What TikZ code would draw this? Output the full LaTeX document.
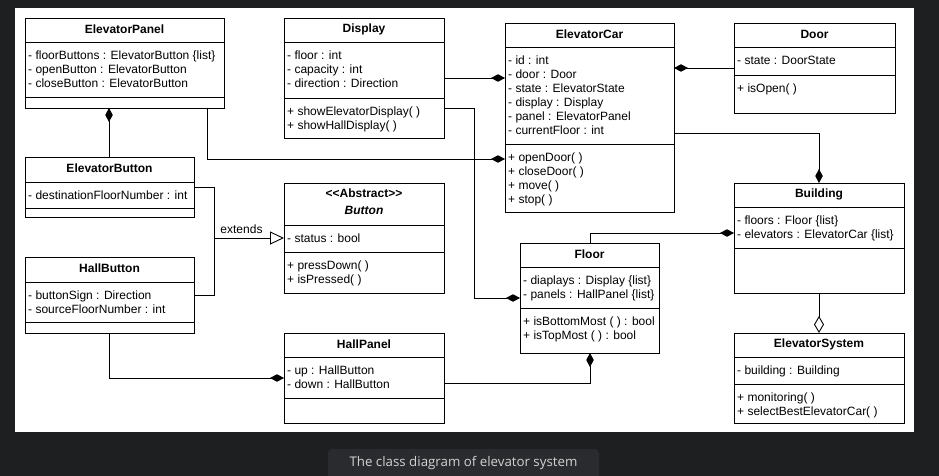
\documentclass[tikz,border=0pt]{standalone}
\usepackage{fontspec}
\setmainfont{Liberation Sans}
\newfontfamily\capfont{Open Sans}
\usetikzlibrary{arrows.meta}
\definecolor{bgdark}{HTML}{1E1F21}
\definecolor{capbox}{HTML}{2A2B2E}
\definecolor{captext}{HTML}{D2D2D2}
\tikzset{
 box/.style={draw=black, line width=0.9pt, fill=white, inner sep=0pt, outer sep=0pt},
 sepline/.style={draw=black, line width=0.9pt},
 ttl/.style={font=\fontsize{12}{14}\selectfont\bfseries, inner sep=0pt, anchor=center},
 lst/.style={font=\fontsize{12}{13.9}\selectfont, inner sep=0pt, anchor=north west, align=left},
 conn/.style={draw=black, line width=0.9pt},
 comp/.style={conn, -{Diamond[length=14pt,width=7.5pt]}},
 agg/.style={conn, -{Diamond[open,length=17pt,width=10pt,fill=white]}},
 gen/.style={conn, -{Triangle[open,length=14pt,width=13pt,fill=white]}},
 lbl/.style={font=\fontsize{12}{14}\selectfont, inner sep=0pt},
}
\newcommand{\umlbox}[7]{%
 \def\un{#1}\def\ux{#2}\def\uy{#3}\def\uxx{#4}\def\usa{#6}\def\usb{#7}%
 \node[box, minimum width={#4-#2}, minimum height={#5-#3}] (#1) at ({(#2+#4)/2},{(#3+#5)/2}) {};
 \draw[sepline] (#2,#6) -- (#4,#6);
 \draw[sepline] (#2,#7) -- (#4,#7);
}
\newcommand{\umltitle}[1]{\node[ttl] (\un-t) at ({(\ux+\uxx)/2},{(\uy+\usa)/2-1}) {#1};}
\newcommand{\umlattr}[1]{\node[lst] (\un-a) at ({\ux+3},{\usa+8}) {\strut#1};}
\newcommand{\umlmeth}[1]{\node[lst] (\un-m) at ({\ux+3},{\usb+8}) {\strut#1};}
\begin{document}
\begin{tikzpicture}[x=1pt,y=-1pt]
\useasboundingbox (0,0) rectangle (939,476);
\fill[bgdark] (0,0) rectangle (939,476);
\fill[white] (15,8) rectangle (914,432);
\fill[capbox, rounded corners=4pt] (328,449) rectangle (599,484);
\node[font=\capfont\fontsize{13.3}{15}\selectfont, text=captext, inner sep=0pt] (cap) at (463.5,463) {The class diagram of elevator system};

% ElevatorPanel
\umlbox{epanel}{25}{18}{224}{108}{42}{97}
\umltitle{ElevatorPanel}
\umlattr{- floorButtons : ElevatorButton \{list\}\\- openButton : ElevatorButton\\- closeButton : ElevatorButton}

% Display
\umlbox{display}{284}{18}{444}{138}{42}{98}
\umltitle{Display}
\umlattr{- floor : int\\- capacity : int\\- direction : Direction}
\umlmeth{+ showElevatorDisplay( )\\+ showHallDisplay( )}

% ElevatorCar
\umlbox{ecar}{505}{23}{674}{212}{47}{144}
\umltitle{ElevatorCar}
\umlattr{- id : int\\- door : Door\\- state : ElevatorState\\- display : Display\\- panel : ElevatorPanel\\- currentFloor : int}
\umlmeth{+ openDoor( )\\+ closeDoor( )\\+ move( )\\+ stop( )}

% Door
\umlbox{door}{734}{23}{895}{113}{47}{75}
\umltitle{Door}
\umlattr{- state : DoorState}
\umlmeth{+ isOpen( )}

% Building
\umlbox{building}{734}{183}{904}{293}{207}{248}
\umltitle{Building}
\umlattr{- floors : Floor \{list\}\\- elevators : ElevatorCar \{list\}}

% ElevatorSystem
\umlbox{esys}{734}{333}{904}{423}{357}{384}
\umltitle{ElevatorSystem}
\umlattr{- building : Building}
\umlmeth{+ monitoring( )\\+ selectBestElevatorCar( )}

% ElevatorButton
\umlbox{ebutton}{25}{157}{194}{217}{182}{208}
\umltitle{ElevatorButton}
\umlattr{- destinationFloorNumber : int}

% Button (abstract)
\umlbox{button}{284}{183}{444}{293}{225}{252}
\node[ttl] (button-s) at (364,193) {\textless\kern0pt\textless\kern0pt Abstract\textgreater\kern0pt\textgreater};
\node[ttl, font={\fontsize{12}{14}\selectfont\bfseries\itshape}] (button-t) at (364,210) {Button};
\umlattr{- status : bool}
\umlmeth{+ pressDown( )\\+ isPressed( )}

% HallButton
\umlbox{hbutton}{25}{257}{194}{333}{282}{322}
\umltitle{HallButton}
\umlattr{- buttonSign : Direction\\- sourceFloorNumber : int}

% HallPanel
\umlbox{hpanel}{284}{333}{444}{423}{357}{398}
\umltitle{HallPanel}
\umlattr{- up : HallButton\\- down : HallButton}

% Floor
\umlbox{floor}{520}{243}{659}{353}{267}{308}
\umltitle{Floor}
\umlattr{- diaplays : Display \{list\}\\- panels : HallPanel \{list\}}
\umlmeth{+ isBottomMost ( ) : bool\\+ isTopMost ( ) : bool}

% connectors
\draw[comp] (ebutton.north -| 109,0) -- (epanel.south -| 109,0);
\draw[comp] (epanel.south -| 207,0) |- (ecar.west |- 0,159);
\draw[comp] (display.east |- 0,78) -- (ecar.west |- 0,78);
\draw[comp] (display.east |- 0,108) -| (474,298) -- (floor.west |- 0,298);
\draw[comp] (door.west |- 0,68) -- (ecar.east |- 0,68);
\draw[comp] (ecar.east |- 0,133) -| (building.north -| 819,0);
\draw[comp] (floor.north -| 590,0) |- (building.west |- 0,233);
\draw[agg] (building.south -| 819,0) -- (esys.north -| 819,0);
\draw[comp] (hbutton.south -| 109,0) |- (hpanel.west |- 0,378);
\draw[comp] (hpanel.east |- 0,383) -| (floor.south -| 590,0);

\coordinate (gj) at (214,238);
\draw[conn] (ebutton.east |- 0,187) -| (gj);
\draw[conn] (hbutton.east |- 0,295) -| (gj);
\draw[gen] (gj) -- (button.west |- gj);
\node[lbl] (ext) at (241.5,229) {extends};
\end{tikzpicture}
\end{document}
